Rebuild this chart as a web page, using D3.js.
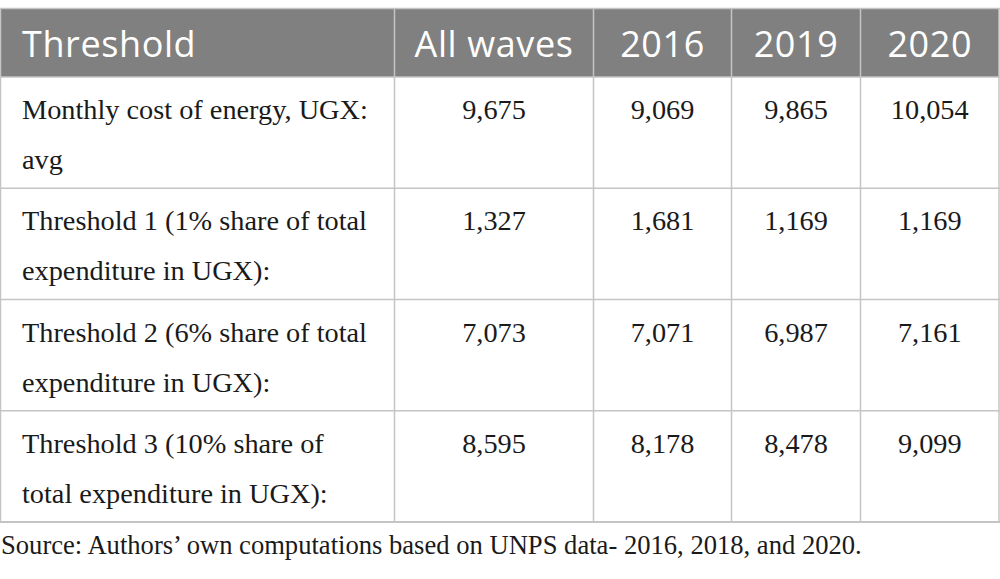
<!DOCTYPE html>
<html><head><meta charset="utf-8">
<script src="https://cdn.jsdelivr.net/npm/d3@7"></script>
<style>html,body{margin:0;padding:0;background:#fff;}svg{display:block;}</style>
</head><body>
<svg id="chart" width="1000" height="579"></svg>
<script>
const headers = ["Threshold", "All waves", "2016", "2019", "2020"];
const rowLabels = [
  ["Monthly cost of energy, UGX:", "avg"],
  ["Threshold 1 (1% share of total", "expenditure in UGX):"],
  ["Threshold 2 (6% share of total", "expenditure in UGX):"],
  ["Threshold 3 (10% share of", "total expenditure in UGX):"]
];
const allWaves = [9675, 1327, 7073, 8595];
const y2016 = [9069, 1681, 7071, 8178];
const y2019 = [9865, 1169, 6987, 8478];
const y2020 = [10054, 1169, 7161, 9099];
const note = "Source: Authors\u2019 own computations based on UNPS data- 2016, 2018, and 2020.";

const series = [allWaves, y2016, y2019, y2020];
const colEdges = [0.5, 394.5, 593.5, 731.5, 860.5, 999];
const headTop = 8.5, headBottom = 77, tableBottom = 522;
const svg = d3.select("#chart");
const fmt = d3.format(",");

const rowScale = d3.scaleBand().domain(d3.range(rowLabels.length)).range([headBottom, tableBottom]);
const lineColor = "#c4c4c4";

// header
svg.append("rect").attr("x", colEdges[0]).attr("y", headTop).attr("width", colEdges[5] - colEdges[0]).attr("height", headBottom - headTop)
  .attr("fill", "#808080");
svg.selectAll("text.head").data(headers).join("text")
  .attr("class", "head")
  .attr("x", (d, i) => i === 0 ? 22 : (colEdges[i] + colEdges[i + 1]) / 2)
  .attr("y", 57)
  .attr("text-anchor", (d, i) => i === 0 ? "start" : "middle")
  .attr("fill", "#ffffff")
  .attr("font-family", "'Open Sans', sans-serif")
  .attr("font-size", 36)
  .attr("letter-spacing", 0.6)
  .text(d => d);

// grid lines
const g = svg.append("g").attr("stroke", lineColor).attr("stroke-width", 1.5).attr("fill", "none");
g.append("line").attr("x1", 0).attr("x2", 1000).attr("y1", headTop).attr("y2", headTop);
rowScale.domain().forEach(i => {
  g.append("line").attr("x1", 0).attr("x2", 1000).attr("y1", rowScale(i)).attr("y2", rowScale(i));
});
g.append("line").attr("x1", 0).attr("x2", 1000).attr("y1", tableBottom).attr("y2", tableBottom).attr("stroke-width", 2);
colEdges.forEach(x => {
  g.append("line").attr("x1", x).attr("x2", x).attr("y1", headTop).attr("y2", tableBottom);
});

// body
const rows = svg.selectAll("g.row").data(rowLabels).join("g").attr("class", "row")
  .attr("transform", (d, i) => `translate(0,${rowScale(i)})`);
rows.each(function (lines, ri) {
  const r = d3.select(this);
  r.selectAll("text.lab").data(lines).join("text").attr("class", "lab")
    .attr("x", 22).attr("y", (d, li) => 42 + li * 50)
    .attr("font-family", "'Liberation Serif', serif").attr("font-size", 28.3).attr("fill", "#1a1a1a")
    .text(d => d);
  r.selectAll("text.val").data(series.map(s => s[ri])).join("text").attr("class", "val")
    .attr("x", (d, ci) => (colEdges[ci + 1] + colEdges[ci + 2]) / 2)
    .attr("y", 42).attr("text-anchor", "middle")
    .attr("font-family", "'Liberation Serif', serif").attr("font-size", 28.3).attr("fill", "#1a1a1a")
    .text(d => fmt(d));
});

svg.append("text").attr("x", 1).attr("y", 554)
  .attr("font-family", "'Liberation Serif', serif").attr("font-size", 26.6).attr("fill", "#1a1a1a")
  .text(note);
</script>
</body></html>
